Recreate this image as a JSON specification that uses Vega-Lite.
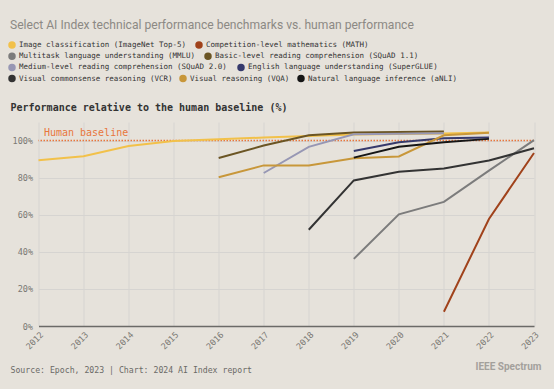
{
  "$schema": "https://vega.github.io/schema/vega-lite/v6.json",
  "autosize": "none",
  "width": 495.5,
  "height": 204,
  "padding": {"left": 38.5, "top": 122, "right": 20, "bottom": 63},
  "background": "#e6e2db",
  "title": {
    "text": "Select AI Index technical performance benchmarks vs. human performance",
    "anchor": "start",
    "frame": "group",
    "dx": -28.5,
    "dy": 2,
    "offset": 12,
    "font": "Roboto",
    "fontSize": 12.1,
    "fontWeight": "normal",
    "color": "#8c8984"
  },
  "config": {
    "view": {"stroke": null},
    "line": {"strokeWidth": 2},
    "axis": {
      "labelFont": "DejaVu Sans Mono",
      "labelFontSize": 8.5,
      "labelColor": "#7a7873",
      "gridColor": "#d6d4d1",
      "gridWidth": 1,
      "ticks": false
    },
    "legend": {
      "title": null,
      "orient": "none",
      "direction": "horizontal",
      "labelFont": "DejaVu Sans Mono",
      "labelFontSize": 7.5,
      "labelColor": "#333333",
      "symbolType": "circle",
      "symbolSize": 30,
      "padding": 0,
      "labelOffset": 3,
      "labelLimit": 400
    }
  },
  "datasets": {
    "benchmarks": [
      {"series": "Image classification (ImageNet Top-5)", "year": 2012, "value": 89.4},
      {"series": "Image classification (ImageNet Top-5)", "year": 2013, "value": 91.5},
      {"series": "Image classification (ImageNet Top-5)", "year": 2014, "value": 97.1},
      {"series": "Image classification (ImageNet Top-5)", "year": 2015, "value": 99.8},
      {"series": "Image classification (ImageNet Top-5)", "year": 2016, "value": 100.7},
      {"series": "Image classification (ImageNet Top-5)", "year": 2017, "value": 101.6},
      {"series": "Image classification (ImageNet Top-5)", "year": 2018, "value": 102.5},
      {"series": "Image classification (ImageNet Top-5)", "year": 2019, "value": 103.2},
      {"series": "Image classification (ImageNet Top-5)", "year": 2020, "value": 103.5},
      {"series": "Image classification (ImageNet Top-5)", "year": 2021, "value": 103.8},
      {"series": "Image classification (ImageNet Top-5)", "year": 2022, "value": 104.4},
      {"series": "Competition-level mathematics (MATH)", "year": 2021, "value": 7.7},
      {"series": "Competition-level mathematics (MATH)", "year": 2022, "value": 57.7},
      {"series": "Competition-level mathematics (MATH)", "year": 2023, "value": 93.3},
      {"series": "Multitask language understanding (MMLU)", "year": 2019, "value": 36.2},
      {"series": "Multitask language understanding (MMLU)", "year": 2020, "value": 60.2},
      {"series": "Multitask language understanding (MMLU)", "year": 2021, "value": 66.9},
      {"series": "Multitask language understanding (MMLU)", "year": 2022, "value": 83.8},
      {"series": "Multitask language understanding (MMLU)", "year": 2023, "value": 100.2},
      {"series": "Basic-level reading comprehension (SQuAD 1.1)", "year": 2016, "value": 90.6},
      {"series": "Basic-level reading comprehension (SQuAD 1.1)", "year": 2017, "value": 97.3},
      {"series": "Basic-level reading comprehension (SQuAD 1.1)", "year": 2018, "value": 102.9},
      {"series": "Basic-level reading comprehension (SQuAD 1.1)", "year": 2019, "value": 104.3},
      {"series": "Basic-level reading comprehension (SQuAD 1.1)", "year": 2020, "value": 104.6},
      {"series": "Basic-level reading comprehension (SQuAD 1.1)", "year": 2021, "value": 104.9},
      {"series": "Medium-level reading comprehension (SQuAD 2.0)", "year": 2017, "value": 82.5},
      {"series": "Medium-level reading comprehension (SQuAD 2.0)", "year": 2018, "value": 96.6},
      {"series": "Medium-level reading comprehension (SQuAD 2.0)", "year": 2019, "value": 103.4},
      {"series": "Medium-level reading comprehension (SQuAD 2.0)", "year": 2020, "value": 103.7},
      {"series": "Medium-level reading comprehension (SQuAD 2.0)", "year": 2021, "value": 103.9},
      {"series": "English language understanding (SuperGLUE)", "year": 2019, "value": 94.4},
      {"series": "English language understanding (SuperGLUE)", "year": 2020, "value": 99.1},
      {"series": "English language understanding (SuperGLUE)", "year": 2021, "value": 101.3},
      {"series": "English language understanding (SuperGLUE)", "year": 2022, "value": 101.6},
      {"series": "Visual commonsense reasoning (VCR)", "year": 2018, "value": 51.9},
      {"series": "Visual commonsense reasoning (VCR)", "year": 2019, "value": 78.5},
      {"series": "Visual commonsense reasoning (VCR)", "year": 2020, "value": 83.2},
      {"series": "Visual commonsense reasoning (VCR)", "year": 2021, "value": 84.9},
      {"series": "Visual commonsense reasoning (VCR)", "year": 2022, "value": 89.2},
      {"series": "Visual commonsense reasoning (VCR)", "year": 2023, "value": 95.8},
      {"series": "Visual reasoning (VQA)", "year": 2016, "value": 80.2},
      {"series": "Visual reasoning (VQA)", "year": 2017, "value": 86.6},
      {"series": "Visual reasoning (VQA)", "year": 2018, "value": 86.6},
      {"series": "Visual reasoning (VQA)", "year": 2019, "value": 90.5},
      {"series": "Visual reasoning (VQA)", "year": 2020, "value": 91.4},
      {"series": "Visual reasoning (VQA)", "year": 2021, "value": 102.8},
      {"series": "Visual reasoning (VQA)", "year": 2022, "value": 104.2},
      {"series": "Natural language inference (aNLI)", "year": 2019, "value": 90.8},
      {"series": "Natural language inference (aNLI)", "year": 2020, "value": 96.6},
      {"series": "Natural language inference (aNLI)", "year": 2021, "value": 99.1},
      {"series": "Natural language inference (aNLI)", "year": 2022, "value": 100.9}
    ],
    "baseline": [{"label": "Human baseline", "value": 100}]
  },
  "resolve": {"axis": {"x": "independent"}, "scale": {"color": "independent"}},
  "layer": [
    {
      "data": {"name": "baseline"},
      "mark": {"type": "rule", "color": "#e8763c", "strokeWidth": 1.6, "strokeDash": [1.5, 1.5]},
      "encoding": {"y": {"field": "value", "type": "quantitative"}}
    },
    {
      "data": {"name": "benchmarks"},
      "transform": [{"filter": {"field": "series", "equal": "Image classification (ImageNet Top-5)"}}],
      "mark": "line",
      "encoding": {
        "x": {
          "field": "year", "type": "quantitative",
          "scale": {"domain": [2012, 2023], "nice": false, "zero": false},
          "axis": {
            "orient": "bottom",
            "values": [2012, 2013, 2014, 2015, 2016, 2017, 2018, 2019, 2020, 2021, 2022, 2023],
            "format": "d",
            "labelAngle": -45,
            "labelPadding": 4,
            "domainColor": "#6b6a67",
            "domainWidth": 1.5,
            "title": "Source: Epoch, 2023 | Chart: 2024 AI Index report",
            "titleFont": "DejaVu Sans Mono",
            "titleFontSize": 8.2,
            "titleFontWeight": "normal",
            "titleColor": "#6b6a67",
            "titleX": -28.5,
            "titleY": 44,
            "titleAlign": "left",
            "titleAnchor": "start",
            "titleBaseline": "middle"
          }
        },
        "y": {
          "field": "value", "type": "quantitative",
          "scale": {"domain": [0, 110], "nice": false},
          "axis": {
            "values": [0, 20, 40, 60, 80, 100],
            "labelExpr": "datum.value + '%'",
            "domain": false,
            "labelPadding": 6,
            "title": "Performance relative to the human baseline (%)",
            "titleFont": "DejaVu Sans Mono",
            "titleFontSize": 10,
            "titleFontWeight": "bold",
            "titleColor": "#333333",
            "titleAngle": 0,
            "titleX": -28.5,
            "titleY": -15,
            "titleAlign": "left",
            "titleAnchor": "start",
            "titleBaseline": "middle"
          }
        },
        "color": {
          "field": "series", "type": "nominal",
          "scale": {"domain": ["Image classification (ImageNet Top-5)"], "range": ["#f2c14a"]},
          "legend": {"legendX": -30.5, "legendY": -81, "symbolFillColor": "#f2c14a", "encode": {"symbols": {"update": {"fill": {"value": "#f2c14a"}}}}}
        }
      }
    },
    {
      "data": {"name": "benchmarks"},
      "transform": [{"filter": {"field": "series", "equal": "Competition-level mathematics (MATH)"}}],
      "mark": "line",
      "encoding": {
        "x": {"field": "year", "type": "quantitative", "axis": null},
        "y": {"field": "value", "type": "quantitative"},
        "color": {
          "field": "series", "type": "nominal",
          "scale": {"domain": ["Competition-level mathematics (MATH)"], "range": ["#a0421b"]},
          "legend": {"legendX": 156.5, "legendY": -81, "symbolFillColor": "#a0421b", "encode": {"symbols": {"update": {"fill": {"value": "#a0421b"}}}}}
        }
      }
    },
    {
      "data": {"name": "benchmarks"},
      "transform": [{"filter": {"field": "series", "equal": "Multitask language understanding (MMLU)"}}],
      "mark": "line",
      "encoding": {
        "x": {"field": "year", "type": "quantitative", "axis": null},
        "y": {"field": "value", "type": "quantitative"},
        "color": {
          "field": "series", "type": "nominal",
          "scale": {"domain": ["Multitask language understanding (MMLU)"], "range": ["#7c7c7c"]},
          "legend": {"legendX": -30.5, "legendY": -69.8, "symbolFillColor": "#7c7c7c", "encode": {"symbols": {"update": {"fill": {"value": "#7c7c7c"}}}}}
        }
      }
    },
    {
      "data": {"name": "benchmarks"},
      "transform": [{"filter": {"field": "series", "equal": "Basic-level reading comprehension (SQuAD 1.1)"}}],
      "mark": "line",
      "encoding": {
        "x": {"field": "year", "type": "quantitative", "axis": null},
        "y": {"field": "value", "type": "quantitative"},
        "color": {
          "field": "series", "type": "nominal",
          "scale": {"domain": ["Basic-level reading comprehension (SQuAD 1.1)"], "range": ["#6b5524"]},
          "legend": {"legendX": 165.5, "legendY": -69.8, "symbolFillColor": "#6b5524", "encode": {"symbols": {"update": {"fill": {"value": "#6b5524"}}}}}
        }
      }
    },
    {
      "data": {"name": "benchmarks"},
      "transform": [{"filter": {"field": "series", "equal": "Medium-level reading comprehension (SQuAD 2.0)"}}],
      "mark": "line",
      "encoding": {
        "x": {"field": "year", "type": "quantitative", "axis": null},
        "y": {"field": "value", "type": "quantitative"},
        "color": {
          "field": "series", "type": "nominal",
          "scale": {"domain": ["Medium-level reading comprehension (SQuAD 2.0)"], "range": ["#9797b4"]},
          "legend": {"legendX": -30.5, "legendY": -58.6, "symbolFillColor": "#9797b4", "encode": {"symbols": {"update": {"fill": {"value": "#9797b4"}}}}}
        }
      }
    },
    {
      "data": {"name": "benchmarks"},
      "transform": [{"filter": {"field": "series", "equal": "English language understanding (SuperGLUE)"}}],
      "mark": "line",
      "encoding": {
        "x": {"field": "year", "type": "quantitative", "axis": null},
        "y": {"field": "value", "type": "quantitative"},
        "color": {
          "field": "series", "type": "nominal",
          "scale": {"domain": ["English language understanding (SuperGLUE)"], "range": ["#363a6c"]},
          "legend": {"legendX": 198.5, "legendY": -58.6, "symbolFillColor": "#363a6c", "encode": {"symbols": {"update": {"fill": {"value": "#363a6c"}}}}}
        }
      }
    },
    {
      "data": {"name": "benchmarks"},
      "transform": [{"filter": {"field": "series", "equal": "Visual commonsense reasoning (VCR)"}}],
      "mark": "line",
      "encoding": {
        "x": {"field": "year", "type": "quantitative", "axis": null},
        "y": {"field": "value", "type": "quantitative"},
        "color": {
          "field": "series", "type": "nominal",
          "scale": {"domain": ["Visual commonsense reasoning (VCR)"], "range": ["#333333"]},
          "legend": {"legendX": -30.5, "legendY": -47.4, "symbolFillColor": "#333333", "encode": {"symbols": {"update": {"fill": {"value": "#333333"}}}}}
        }
      }
    },
    {
      "data": {"name": "benchmarks"},
      "transform": [{"filter": {"field": "series", "equal": "Visual reasoning (VQA)"}}],
      "mark": "line",
      "encoding": {
        "x": {"field": "year", "type": "quantitative", "axis": null},
        "y": {"field": "value", "type": "quantitative"},
        "color": {
          "field": "series", "type": "nominal",
          "scale": {"domain": ["Visual reasoning (VQA)"], "range": ["#c8973a"]},
          "legend": {"legendX": 140.5, "legendY": -47.4, "symbolFillColor": "#c8973a", "encode": {"symbols": {"update": {"fill": {"value": "#c8973a"}}}}}
        }
      }
    },
    {
      "data": {"name": "benchmarks"},
      "transform": [{"filter": {"field": "series", "equal": "Natural language inference (aNLI)"}}],
      "mark": "line",
      "encoding": {
        "x": {"field": "year", "type": "quantitative", "axis": null},
        "y": {"field": "value", "type": "quantitative"},
        "color": {
          "field": "series", "type": "nominal",
          "scale": {"domain": ["Natural language inference (aNLI)"], "range": ["#161616"]},
          "legend": {"legendX": 258.5, "legendY": -47.4, "symbolFillColor": "#161616", "encode": {"symbols": {"update": {"fill": {"value": "#161616"}}}}}
        }
      }
    },
    {
      "data": {"name": "baseline"},
      "mark": {"type": "text", "align": "left", "baseline": "middle", "dy": -8, "font": "DejaVu Sans Mono", "fontSize": 10, "fill": "#e8763c"},
      "encoding": {
        "x": {
          "datum": 2012.12, "type": "quantitative",
          "axis": {
            "orient": "bottom",
            "labels": false,
            "grid": false,
            "domain": false,
            "ticks": false,
            "title": "IEEE Spectrum",
            "titleFont": "Roboto",
            "titleFontSize": 10,
            "titleFontWeight": "bold",
            "titleColor": "#a3a09b",
            "titleX": 436.5,
            "titleY": 40,
            "titleAlign": "left",
            "titleAnchor": "start",
            "titleBaseline": "middle"
          }
        },
        "y": {"field": "value", "type": "quantitative"},
        "text": {"field": "label"}
      }
    }
  ]
}
